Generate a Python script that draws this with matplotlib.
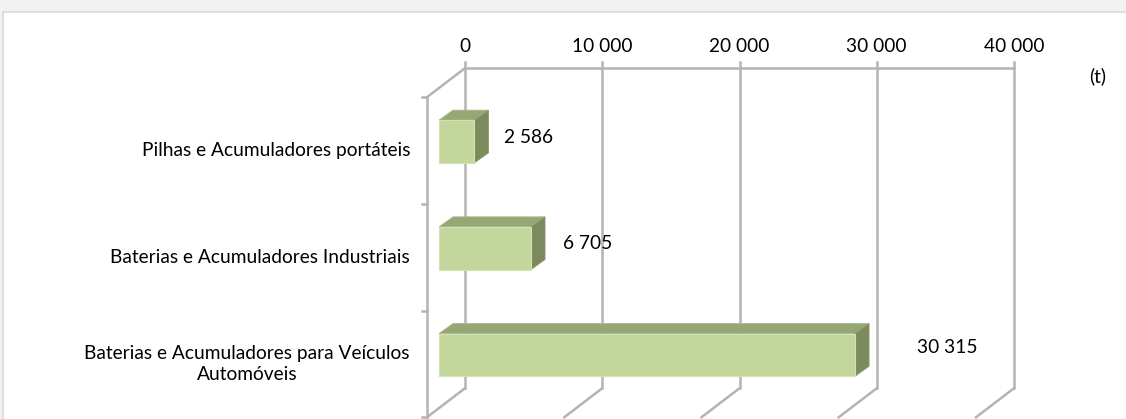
import matplotlib
matplotlib.use("Agg")
import matplotlib.pyplot as plt
from matplotlib.patches import Polygon, Rectangle

# data
categories = ["Pilhas e Acumuladores portáteis",
              "Baterias e Acumuladores Industriais",
              "Baterias e Acumuladores para Veículos\nAutomóveis"]
values = [2586, 6705, 30315]
value_labels = ["2 586", "6 705", "30 315"]
ticks = [0, 10000, 20000, 30000, 40000]
tick_labels = ["0", "10 000", "20 000", "30 000", "40 000"]
unit_label = "(t)"

# layout (pixels)
W, H = 1126, 419
PX_PER_UNIT = 137.25 / 10000
X0_PX = 439.0        # value 0 on the bar front plane
ROW_PX = 106.7
ROW0_PX = 141.5      # centre of first bar, front face
BAR_H = 0.40

def ux(px):
    return px / PX_PER_UNIT

def uy(px):
    return px / ROW_PX

BAR_DX, BAR_DY = ux(14), uy(-10)
BACK_DX, BACK_DY = ux(26), uy(-20)
FRONT_DX, FRONT_DY = ux(-12), uy(9)
label_gap_px = [16, 18, 48]
label_up_px = [-4.5, -5, -7.5]

front_c = "#C3D69B"
top_c = "#97A675"
side_c = "#7D8A5D"
grid_c = "#B4B4B4"
font = ["Lato", "DejaVu Sans"]
fs = 13.8

fig = plt.figure(figsize=(W / 100, H / 100), dpi=100, facecolor="#F2F2F2")
bg = fig.add_axes([0, 0, 1, 1], zorder=-5)
bg.set_axis_off()
bg.set_xlim(0, W)
bg.set_ylim(H, 0)
bg.add_patch(Rectangle((3, 12), W, H, facecolor="white", edgecolor="#D9D9D9", lw=1.2))

ax = fig.add_axes([0, 0, 1, 1])
ax.set_axis_off()
ax.patch.set_alpha(0)
ax.set_xlim(-ux(X0_PX), ux(W - X0_PX))
ax.set_ylim(uy(H - ROW0_PX), uy(-ROW0_PX))

n = len(categories)
top_y, bot_y = -0.5, n - 0.5
lw = 1.8

# back wall
for t in ticks:
    ax.plot([t + BACK_DX] * 2, [top_y + BACK_DY - uy(6), bot_y + BACK_DY], color=grid_c, lw=lw, zorder=1)
    ax.plot([t + BACK_DX, t + FRONT_DX], [bot_y + BACK_DY, bot_y + FRONT_DY], color=grid_c, lw=lw, zorder=1)
ax.plot([ticks[0] + BACK_DX, ticks[-1] + BACK_DX], [top_y + BACK_DY] * 2, color=grid_c, lw=lw, zorder=1)

# left wall
ax.plot([FRONT_DX] * 2, [top_y + FRONT_DY, bot_y + FRONT_DY], color=grid_c, lw=lw, zorder=1)
ax.plot([BACK_DX, FRONT_DX], [top_y + BACK_DY, top_y + FRONT_DY], color=grid_c, lw=lw, zorder=1)
for k in range(n + 1):
    yy = top_y + k + FRONT_DY
    ax.plot([FRONT_DX - ux(5), FRONT_DX], [yy, yy], color=grid_c, lw=lw, zorder=1)

# bars
for i, v in enumerate(values):
    y0, y1 = i - BAR_H / 2, i + BAR_H / 2
    ax.add_patch(Polygon([(0, y0), (v, y0), (v + BAR_DX, y0 + BAR_DY), (BAR_DX, y0 + BAR_DY)],
                         closed=True, facecolor=top_c, edgecolor="#A9B88A", lw=0.6, zorder=3))
    ax.add_patch(Polygon([(v, y0), (v, y1), (v + BAR_DX, y1 + BAR_DY), (v + BAR_DX, y0 + BAR_DY)],
                         closed=True, facecolor=side_c, edgecolor="#8D9A6C", lw=0.6, zorder=3))
    ax.add_patch(Rectangle((0, y0), v, BAR_H, facecolor=front_c, edgecolor="#D3E2B3", lw=0.8, zorder=4))
    ax.text(v + BAR_DX + ux(label_gap_px[i]), i + uy(label_up_px[i]), value_labels[i],
            ha="left", va="center", fontsize=fs, family=font, zorder=5)
    ax.text(ux(410 - X0_PX), i + FRONT_DY, categories[i], ha="right", va="center",
            multialignment="center", fontsize=fs, family=font, linespacing=1.3)

# top tick labels
for t, lab in zip(ticks, tick_labels):
    ax.text(t + BACK_DX, uy(46 - ROW0_PX), lab, ha="center", va="center", fontsize=fs, family=font)

ax.text(ux(1098 - X0_PX), uy(76 - ROW0_PX), unit_label, ha="center", va="center", fontsize=fs, family=font)

fig.savefig("out.png", dpi=100, facecolor=fig.get_facecolor())
